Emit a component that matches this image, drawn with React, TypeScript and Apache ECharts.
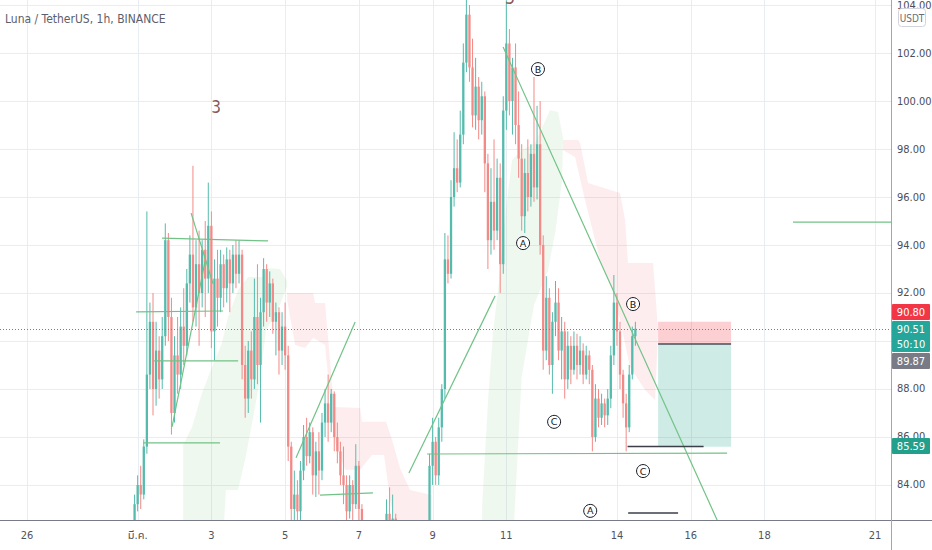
import React, { useEffect, useRef } from "react";
import * as echarts from "echarts";

// x: hours from 1 Mar 00:00, y: price in USDT
const X_MIN = -89.6;
const X_MAX = 490.4;
const Y_MIN = 82.54;
const Y_MAX = 104.21;

const candleStartHour = -2;
const candleStepHours = 2;
// [open, close, low, high]
const candles = [
  [82.4, 83.2, 82.0, 83.6], [83.2, 84.0, 82.9, 84.4], [84.0, 83.6, 83.0, 84.8], [83.6, 85.6, 83.4, 85.9],
  [85.6, 88.6, 85.3, 95.4], [88.6, 90.8, 88.0, 91.6], [90.8, 88.0, 86.9, 92.0], [88.0, 89.6, 87.3, 90.8],
  [89.6, 88.4, 87.6, 90.2], [88.4, 90.2, 88.0, 91.0], [90.2, 94.2, 89.8, 94.9], [94.2, 91.0, 90.0, 94.5],
  [91.0, 87.0, 86.1, 91.8], [87.0, 89.4, 86.6, 90.2], [89.4, 88.6, 87.8, 91.0], [88.6, 90.6, 88.0, 91.4],
  [90.6, 89.8, 89.0, 92.2], [89.8, 92.4, 89.4, 93.0], [92.4, 93.6, 91.6, 94.4], [93.6, 91.4, 90.8, 97.3],
  [91.4, 93.2, 90.6, 94.2], [93.2, 92.0, 89.8, 94.6], [92.0, 93.8, 91.4, 94.2], [93.8, 92.6, 91.0, 95.0],
  [92.6, 94.8, 92.0, 96.6], [94.8, 90.4, 89.7, 95.4], [90.4, 92.6, 89.2, 93.4], [92.6, 91.8, 90.6, 93.8],
  [91.8, 93.2, 91.2, 93.8], [93.2, 92.2, 91.4, 93.6], [92.2, 93.4, 91.6, 93.9], [93.4, 92.4, 91.2, 93.8],
  [92.4, 93.6, 92.0, 94.0], [93.6, 92.8, 92.2, 94.2], [92.8, 93.6, 92.4, 94.2], [93.6, 89.0, 88.4, 93.8],
  [89.0, 87.6, 86.8, 89.8], [87.6, 89.6, 87.0, 90.0], [89.6, 88.4, 87.6, 90.4], [88.4, 91.0, 88.0, 92.6],
  [91.0, 89.0, 88.2, 93.2], [89.0, 91.2, 86.6, 91.8], [91.2, 93.0, 90.6, 93.45], [93.0, 91.6, 90.8, 93.2],
  [91.6, 92.4, 91.0, 92.9], [92.4, 90.8, 90.3, 92.6], [90.8, 91.2, 89.4, 91.6], [91.2, 89.6, 88.6, 91.4],
  [89.6, 90.6, 89.0, 91.2], [90.6, 89.4, 88.8, 91.6], [89.4, 85.6, 85.0, 89.8], [85.6, 83.0, 82.2, 85.8],
  [83.0, 83.6, 82.3, 84.6], [83.6, 82.9, 82.0, 84.2], [82.9, 84.6, 82.4, 85.0], [84.6, 86.0, 84.2, 86.5],
  [86.0, 85.2, 84.8, 86.8], [85.2, 86.2, 84.9, 86.6], [86.2, 84.4, 83.6, 86.4], [84.4, 85.4, 83.5, 85.8],
  [85.4, 84.6, 83.6, 86.2], [84.6, 86.6, 84.2, 87.0], [86.6, 87.4, 86.0, 88.0], [87.4, 86.6, 85.8, 88.6],
  [86.6, 87.8, 86.2, 88.0], [87.8, 86.0, 85.4, 87.9], [86.0, 85.4, 84.9, 86.6], [85.4, 84.4, 84.0, 85.8],
  [84.4, 84.0, 83.2, 85.6], [84.0, 82.9, 82.0, 84.4], [82.9, 84.0, 82.6, 84.4], [84.0, 83.2, 82.5, 84.2],
  [83.2, 84.8, 83.0, 85.7], [84.8, 83.0, 82.2, 85.0], [83.0, 81.6, 81.2, 83.2], [81.6, 80.8, 80.2, 82.0],
  [80.8, 81.2, 80.4, 81.6], [81.2, 80.4, 79.8, 81.5], [80.4, 80.9, 80.0, 81.3], [80.9, 81.4, 80.6, 81.8],
  [81.4, 81.0, 80.5, 82.0], [81.0, 81.8, 80.7, 82.2], [81.8, 82.8, 81.5, 83.4], [82.8, 82.2, 81.8, 83.9],
  [82.2, 82.6, 81.8, 83.6], [82.6, 81.4, 81.0, 82.8], [81.4, 80.6, 80.0, 81.8], [80.6, 80.2, 79.6, 81.0],
  [80.2, 80.8, 79.8, 81.2], [80.8, 80.4, 79.9, 81.4], [80.4, 81.0, 80.0, 81.3], [81.0, 80.6, 80.2, 81.5],
  [80.6, 81.2, 80.3, 81.6], [81.2, 81.6, 80.8, 82.0], [81.6, 81.2, 80.9, 82.1], [81.2, 82.0, 80.9, 82.3],
  [82.0, 84.8, 81.8, 85.3], [84.8, 85.8, 84.0, 86.8], [85.8, 84.4, 84.0, 86.0], [84.4, 86.4, 84.0, 86.8],
  [86.4, 88.0, 85.8, 88.2], [88.0, 93.4, 87.6, 94.5], [93.4, 92.8, 92.4, 94.4], [92.8, 96.0, 92.6, 96.7],
  [96.0, 97.2, 95.6, 98.7], [97.2, 96.6, 96.2, 98.4], [96.6, 98.6, 96.4, 99.6], [98.6, 101.6, 98.2, 102.4],
  [101.6, 103.6, 101.2, 104.3], [103.6, 101.4, 100.8, 104.0], [101.4, 99.4, 98.9, 102.6], [99.4, 100.6, 98.8, 101.8],
  [100.6, 99.2, 98.4, 101.0], [99.2, 100.2, 98.6, 100.8], [100.2, 97.4, 96.2, 100.4], [97.4, 94.2, 93.0, 97.8],
  [94.2, 95.8, 93.6, 97.2], [95.8, 94.6, 93.8, 98.4], [94.6, 96.8, 94.2, 97.6], [96.8, 93.2, 92.0, 97.4],
  [93.2, 99.6, 92.8, 100.2], [99.6, 102.4, 98.8, 104.2], [102.4, 100.0, 99.4, 103.0], [100.0, 101.4, 98.6, 101.8],
  [101.4, 99.0, 98.2, 102.4], [99.0, 97.6, 96.8, 100.4], [97.6, 95.2, 94.6, 98.2], [95.2, 97.0, 94.5, 97.6],
  [97.0, 96.0, 95.4, 98.4], [96.0, 97.8, 95.6, 98.2], [97.8, 96.4, 95.8, 101.0], [96.4, 98.2, 95.9, 99.8],
  [98.2, 94.0, 93.6, 100.0], [94.0, 89.6, 88.8, 94.4], [89.6, 91.8, 89.2, 92.7], [91.8, 89.0, 88.6, 92.2],
  [89.0, 90.8, 87.8, 91.2], [90.8, 91.6, 90.2, 92.5], [91.6, 89.6, 89.2, 92.2], [89.6, 90.4, 88.4, 91.0],
  [90.4, 88.4, 87.6, 90.8], [88.4, 89.8, 88.0, 90.4], [89.8, 88.8, 88.2, 90.2], [88.8, 89.8, 88.6, 90.4],
  [89.8, 89.0, 88.4, 90.3], [89.0, 89.6, 88.6, 90.2], [89.6, 88.6, 88.2, 89.9], [88.6, 89.4, 88.4, 89.8],
  [89.4, 88.8, 88.2, 89.6], [88.8, 86.0, 85.4, 89.0], [86.0, 87.6, 85.8, 88.2], [87.6, 86.8, 86.4, 88.0],
  [86.8, 87.4, 86.5, 87.8], [87.4, 86.9, 86.4, 87.6], [86.9, 87.6, 86.5, 88.0], [87.6, 89.4, 87.2, 89.8],
  [89.4, 91.6, 89.0, 92.75], [91.6, 90.4, 89.8, 92.0], [90.4, 88.6, 88.0, 90.8], [88.6, 87.4, 86.8, 88.8],
  [87.4, 86.4, 85.4, 87.8], [86.4, 88.6, 86.2, 89.0], [88.6, 90.2, 88.4, 90.6], [90.2, 90.51, 89.8, 90.8],
];

const dayTickHours = [-72, 0, 48, 96, 144, 192, 240, 312, 360, 408, 480];
const dayTickLabels = ["26", "มี.ค.", "3", "5", "7", "9", "11", "14", "16", "18", "21"];
const priceTicks = [84, 86, 88, 90, 92, 94, 96, 98, 100, 102, 104];
const hiddenPriceLabels = [90]; // covered by the price tags

// Ichimoku cloud outlines [hour, price]
const cloudUpATop = [[29.6, 85.67], [35.4, 86.42], [41.9, 87.83], [48.4, 88.92], [54.9, 89.92], [58.8, 91.0], [65.4, 92.13], [71.9, 92.67], [81.0, 92.67], [84.9, 93.04], [92.7, 93.0], [97.3, 92.5]];
const cloudUpABottom = [[29.6, 82.4], [56.2, 82.4], [57.5, 83.79], [65.4, 83.79], [70.6, 85.25], [74.5, 86.58], [79.7, 88.4], [83.6, 90.46], [91.4, 91.29], [97.3, 92.3]];
const cloudDownBTop = [[97.3, 92.0], [114.2, 92.0], [115.5, 91.58], [122.0, 91.58], [127.8, 87.25], [144.8, 87.21], [146.1, 86.63], [161.7, 86.63], [165.6, 85.88], [170.8, 84.71], [177.3, 83.79], [191.6, 83.58]];
const cloudDownBBottom = [[97.3, 91.71], [102.5, 89.83], [109.0, 89.71], [114.2, 90.13], [122.0, 89.83], [127.8, 85.88], [135.0, 84.63], [144.8, 84.63], [152.6, 85.25], [160.4, 85.25], [164.3, 83.38], [167.6, 82.4], [191.6, 82.4]];
const cloudUpCTop = [[224.2, 83.08], [228.1, 87.54], [231.3, 90.33], [234.6, 92.13], [239.1, 95.17], [243.7, 97.54], [250.2, 97.96], [258.7, 98.25], [268.5, 99.63], [273.7, 99.54], [276.9, 98.46]];
const cloudUpCBottom = [[224.2, 82.4], [245.0, 82.4], [250.0, 88.5], [258.0, 91.5], [267.0, 92.9], [272.0, 94.6], [276.3, 96.7], [276.9, 98.4]];
const cloudDownDTop = [[276.9, 98.38], [286.7, 98.38], [288.0, 98.25], [293.2, 96.58], [314.0, 96.17], [317.3, 95.04], [319.2, 93.25], [335.5, 93.25], [338.8, 90.46]];
const cloudDownDBottom = [[276.9, 97.96], [284.7, 97.67], [291.2, 95.88], [301.0, 93.38], [309.5, 92.13], [314.0, 90.88], [320.5, 88.92], [330.3, 87.96], [336.8, 87.54], [338.8, 90.46]];

// drawn trend lines [hour1, price1, hour2, price2]
const greenLines = [
  [237.9, 102.25, 380.1, 82.13],
  [176.6, 84.5, 232.7, 91.88],
  [103.1, 85.13, 141.6, 90.79],
  [22.4, 86.42, 43.9, 93.33],
  [34.8, 95.33, 49.1, 92.38],
  [15.9, 94.29, 84.9, 94.17],
  [-1.0, 91.21, 55.6, 91.25],
  [10.7, 89.17, 65.4, 89.17],
  [3.5, 85.75, 53.6, 85.75],
  [118.7, 83.58, 153.2, 83.67],
  [188.4, 85.29, 383.7, 85.33],
  [426.6, 94.95, 491.0, 94.95],
];
const darkLines = [
  [318.9, 85.6, 368.4, 85.6],
  [319.3, 82.83, 351.8, 82.83],
];

// short position tool
const positionFromHour = 338.8;
const positionToHour = 386.3;
const positionStop = 90.8;
const positionEntry = 89.87;
const positionTarget = 85.59;
const lastPrice = 90.51;

// Elliott wave labels [hour, price, text]
const waveCircles: [number, number, string][] = [
  [260.6, 101.33, "B"],
  [250.9, 94.08, "A"],
  [322.5, 91.54, "B"],
  [271.1, 86.63, "C"],
  [329.0, 84.58, "C"],
  [294.6, 82.92, "A"],
];
const waveCounts: [number, number, string][] = [
  [51.0, 99.75, "3"],
  [242.4, 104.3, "5"],
];

const FONT = "'Liberation Sans Narrow', 'DejaVu Sans Condensed', 'Liberation Sans', sans-serif";
const AXIS_FONT = "'Liberation Sans Narrow', 'DejaVu Sans Condensed', 'Noto Sans Thai', 'Noto Sans', sans-serif";
const UP = "#55bbad";
const DOWN = "#f28a87";
const GRID = "#e8edf3";

export default function App() {
  const ref = useRef<HTMLDivElement>(null);

  useEffect(() => {
    if (!ref.current) return;
    const chart = echarts.init(ref.current, undefined, { renderer: "svg" });

    const clouds = [
      { top: cloudUpATop, bottom: cloudUpABottom, up: true },
      { top: cloudDownBTop, bottom: cloudDownBBottom, up: false },
      { top: cloudUpCTop, bottom: cloudUpCBottom, up: true },
      { top: cloudDownDTop, bottom: cloudDownDBottom, up: false },
    ];

    const crisp = (v: number) => Math.round(v) + 0.5;

    const lineSeries = (lines: number[][], stroke: string, width: number, z: number) => ({
      type: "custom",
      silent: true,
      clip: true,
      z,
      data: lines.map((l) => [l[0], l[1]]),
      renderItem: (params: any, api: any) => {
        const l = lines[params.dataIndex];
        const a = api.coord([l[0], l[1]]);
        const b = api.coord([l[2], l[3]]);
        return {
          type: "line",
          shape: { x1: a[0], y1: a[1], x2: b[0], y2: b[1] },
          style: { stroke, lineWidth: width },
        };
      },
    });

    const candleHour = (i: number) => candleStartHour + i * candleStepHours;

    const option: any = {
      animation: false,
      backgroundColor: "#ffffff",
      grid: { left: 0, right: 41, top: 0, bottom: 30, containLabel: false, outerBoundsMode: "none" },
      xAxis: {
        type: "value",
        min: X_MIN,
        max: X_MAX,
        minInterval: 24,
        maxInterval: 24,
        splitNumber: 24,
        axisLine: { show: false },
        axisTick: { show: false },
        splitLine: { show: false },
        axisLabel: {
          margin: 10,
          color: "#50535e",
          fontSize: 11,
          fontFamily: AXIS_FONT,
          formatter: (v: number) => {
            const i = dayTickHours.findIndex((h) => Math.abs(h - v) < 1e-6);
            return i >= 0 ? dayTickLabels[i] : "";
          },
        },
      },
      yAxis: {
        type: "value",
        position: "right",
        min: Y_MIN,
        max: Y_MAX,
        minInterval: 2,
        maxInterval: 2,
        splitNumber: 10,
        scale: true,
        axisLine: { show: false },
        axisTick: { show: false },
        splitLine: { show: false },
        axisLabel: {
          margin: 6,
          color: "#4a4e59",
          fontSize: 11,
          fontFamily: FONT,
          formatter: (v: number) =>
            priceTicks.some((p) => Math.abs(p - v) < 1e-6) && !hiddenPriceLabels.some((p) => Math.abs(p - v) < 1e-6)
              ? v.toFixed(2)
              : "",
        },
      },
      series: [
        {
          type: "custom",
          silent: true,
          clip: true,
          z: 0,
          data: dayTickHours.map((h) => [h, Y_MIN]),
          renderItem: (params: any, api: any) => {
            const a = api.coord([dayTickHours[params.dataIndex], Y_MIN]);
            const b = api.coord([dayTickHours[params.dataIndex], Y_MAX]);
            return { type: "line", shape: { x1: crisp(a[0]), y1: a[1], x2: crisp(b[0]), y2: b[1] }, style: { stroke: GRID, lineWidth: 1 } };
          },
        },
        {
          type: "custom",
          silent: true,
          clip: true,
          z: 0,
          data: priceTicks.map((p) => [X_MIN, p]),
          renderItem: (params: any, api: any) => {
            const a = api.coord([X_MIN, priceTicks[params.dataIndex]]);
            const b = api.coord([X_MAX, priceTicks[params.dataIndex]]);
            return { type: "line", shape: { x1: a[0], y1: crisp(a[1]), x2: b[0], y2: crisp(b[1]) }, style: { stroke: GRID, lineWidth: 1 } };
          },
        },
        {
          type: "custom",
          silent: true,
          clip: true,
          z: 1,
          data: clouds.map((c) => [c.top[0][0], c.top[0][1]]),
          renderItem: (params: any, api: any) => {
            const c = clouds[params.dataIndex];
            const pts = c.top.map((p) => api.coord(p)).concat(c.bottom.slice().reverse().map((p) => api.coord(p)));
            return {
              type: "polygon",
              shape: { points: pts },
              style: { fill: c.up ? "rgba(76, 175, 80, 0.09)" : "rgba(242, 54, 69, 0.09)" },
            };
          },
        },
        {
          type: "custom",
          silent: true,
          clip: true,
          z: 1,
          data: [[positionFromHour, positionStop]],
          renderItem: (params: any, api: any) => {
            const s1 = api.coord([positionFromHour, positionStop]);
            const e1 = api.coord([positionToHour, positionEntry]);
            const t1 = api.coord([positionToHour, positionTarget]);
            return {
              type: "group",
              children: [
                { type: "rect", shape: { x: s1[0], y: s1[1], width: e1[0] - s1[0], height: e1[1] - s1[1] }, style: { fill: "rgba(242, 54, 69, 0.24)" } },
                { type: "rect", shape: { x: s1[0], y: e1[1], width: t1[0] - s1[0], height: t1[1] - e1[1] }, style: { fill: "rgba(8, 153, 129, 0.2)" } },
                { type: "line", shape: { x1: s1[0], y1: e1[1], x2: e1[0], y2: e1[1] }, style: { stroke: "#4a4e59", lineWidth: 1.5 } },
              ],
            };
          },
        },
        {
          type: "custom",
          name: "Luna / TetherUS",
          silent: true,
          clip: true,
          z: 2,
          data: candles.map((c, i) => [candleHour(i), c[0], c[1], c[2], c[3]]),
          renderItem: (params: any, api: any) => {
            const c = candles[params.dataIndex];
            const t = candleHour(params.dataIndex);
            const po = api.coord([t, c[0]]);
            const pc = api.coord([t, c[1]]);
            const pl = api.coord([t, c[2]]);
            const ph = api.coord([t, c[3]]);
            const col = c[1] >= c[0] ? UP : DOWN;
            const x = po[0];
            const top = Math.min(po[1], pc[1]);
            const h = Math.max(1, Math.abs(po[1] - pc[1]));
            return {
              type: "group",
              children: [
                { type: "line", shape: { x1: x, y1: ph[1], x2: x, y2: pl[1] }, style: { stroke: col, lineWidth: 1 } },
                { type: "rect", shape: { x: x - 1.15, y: top, width: 2.3, height: h }, style: { fill: col } },
              ],
            };
          },
        },
        {
          type: "custom",
          silent: true,
          clip: true,
          z: 3,
          data: [[X_MIN, lastPrice]],
          renderItem: (params: any, api: any) => {
            const a = api.coord([X_MIN, lastPrice]);
            const b = api.coord([X_MAX, lastPrice]);
            return { type: "line", shape: { x1: a[0], y1: crisp(a[1]), x2: b[0], y2: crisp(b[1]) }, style: { stroke: "#26a69a", lineWidth: 1, lineDash: [1, 2] } };
          },
        },
        lineSeries(greenLines, "#72c287", 1.2, 4),
        lineSeries(darkLines, "#3c3f48", 1.5, 4),
        {
          type: "scatter",
          z: 5,
          silent: true,
          symbol: "circle",
          symbolSize: 13,
          data: waveCircles.map((w) => ({ value: [w[0], w[1]], name: w[2] })),
          itemStyle: { color: "#ffffff", borderColor: "#131722", borderWidth: 1, opacity: 1 },
          label: { show: true, position: "inside", formatter: "{b}", color: "#131722", fontSize: 9.5, fontFamily: "'DejaVu Sans', sans-serif" },
        },
        {
          type: "scatter",
          z: 5,
          silent: true,
          clip: false,
          symbol: "circle",
          symbolSize: 1,
          data: waveCounts.map((w) => ({ value: [w[0], w[1]], name: w[2] })),
          itemStyle: { color: "rgba(0,0,0,0)" },
          label: { show: true, position: "inside", formatter: "{b}", color: "#6b2b2b", fontSize: 17, fontFamily: FONT },
        },
      ],
      graphic: [
        { type: "line", z: 90, shape: { x1: 0, y1: 520.5, x2: 932, y2: 520.5 }, style: { stroke: "#787b86", lineWidth: 1 } },
        { type: "line", z: 90, shape: { x1: 891.5, y1: 0, x2: 891.5, y2: 550 }, style: { stroke: "#a3a6af", lineWidth: 1 } },
        { type: "text", z: 90, x: 5, y: 19, style: { text: "Luna / TetherUS, 1h, BINANCE", fill: "#5d606b", fontSize: 12, fontFamily: FONT, verticalAlign: "middle" } },
        { type: "rect", z: 95, shape: { x: 898.5, y: 8.5, width: 27, height: 18, r: 3 }, style: { fill: "#ffffff", stroke: "#d1d4dc", lineWidth: 1 } },
        { type: "text", z: 96, x: 912, y: 18, style: { text: "USDT", fill: "#6a6d78", fontSize: 10, fontFamily: FONT, align: "center", verticalAlign: "middle" } },
        { type: "rect", z: 95, shape: { x: 892, y: 304, width: 38, height: 16, r: 1 }, style: { fill: "#f23645" } },
        { type: "text", z: 96, x: 911, y: 312.5, style: { text: "90.80", fill: "#ffffff", fontSize: 11, fontFamily: FONT, align: "center", verticalAlign: "middle" } },
        { type: "rect", z: 95, shape: { x: 892, y: 321, width: 38, height: 31, r: 1 }, style: { fill: "#26a69a" } },
        { type: "text", z: 96, x: 911, y: 329, style: { text: "90.51", fill: "#ffffff", fontSize: 11, fontFamily: FONT, align: "center", verticalAlign: "middle" } },
        { type: "text", z: 96, x: 911, y: 344, style: { text: "50:10", fill: "#ffffff", fontSize: 11, fontFamily: FONT, align: "center", verticalAlign: "middle" } },
        { type: "rect", z: 95, shape: { x: 892, y: 353, width: 38, height: 16, r: 1 }, style: { fill: "#787b86" } },
        { type: "text", z: 96, x: 911, y: 361.5, style: { text: "89.87", fill: "#ffffff", fontSize: 11, fontFamily: FONT, align: "center", verticalAlign: "middle" } },
        { type: "rect", z: 95, shape: { x: 892, y: 438, width: 38, height: 16, r: 1 }, style: { fill: "#22a08c" } },
        { type: "text", z: 96, x: 911, y: 446.5, style: { text: "85.59", fill: "#ffffff", fontSize: 11, fontFamily: FONT, align: "center", verticalAlign: "middle" } },
      ],
    };

    chart.setOption(option);
    return () => chart.dispose();
  }, []);

  return <div ref={ref} style={{ position: "fixed", left: 0, top: 0, width: 932, height: 550, background: "#fff" }} />;
}
